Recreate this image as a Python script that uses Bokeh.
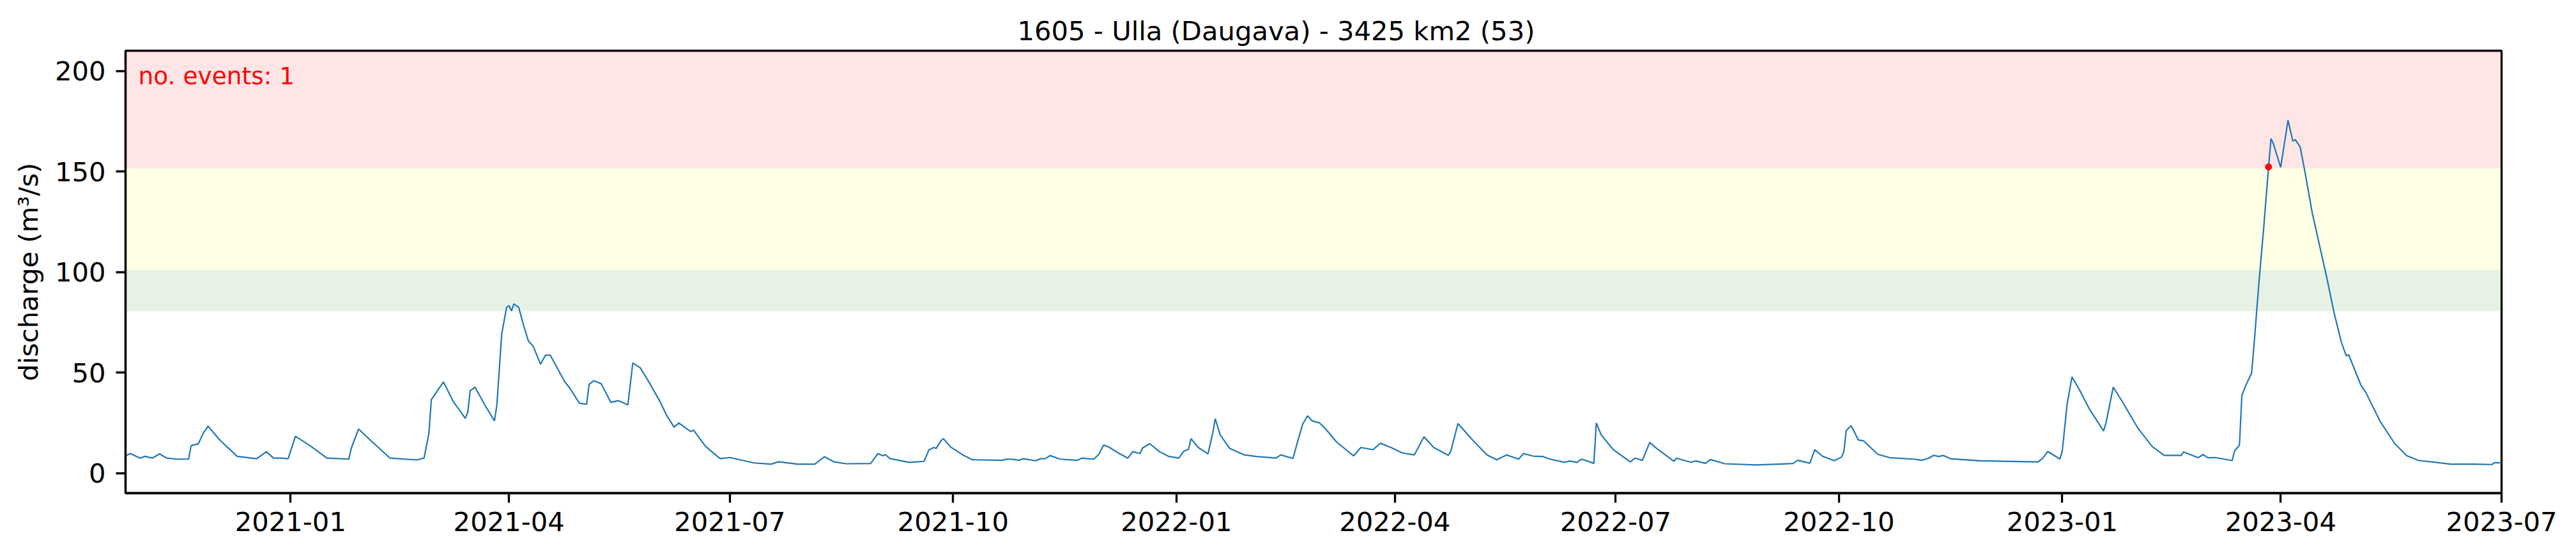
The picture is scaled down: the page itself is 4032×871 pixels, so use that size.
import pandas as pd
from bokeh.plotting import figure
from bokeh.models import (
    ColumnDataSource, Range1d, FixedTicker, DatetimeTickFormatter,
    BoxAnnotation, Label
)
from bokeh.embed import file_html
from bokeh.resources import INLINE

# ------------------------------------------------------------------ data
title_text = "1605 - Ulla (Daugava) - 3425 km2 (53)"
y_label = "discharge (m³/s)"

base_date = "2021-01-01"
# days since base_date
day_offsets = [
    -68, -66, -62, -60, -57, -54, -51, -47, -42, -41, -38, -36, -34, -29, -22,
    -14, -10, -7, -4, -1, 2, 8, 15, 24, 25, 28, 33, 41, 52, 55, 57, 58, 61, 63,
    67, 72, 73, 74, 76, 80, 84, 85, 87, 89, 90, 91, 92, 94, 96, 98, 100, 103,
    105, 107, 113, 115, 119, 122, 123, 125, 128, 132, 135, 139, 141, 144, 147,
    152, 155, 158, 160, 163, 165, 166, 171, 177, 181, 191, 198, 201, 209, 216,
    220, 224, 229, 239, 242, 244, 245, 247, 255, 261, 263, 265, 266, 268, 269,
    272, 277, 281, 293, 295, 298, 300, 302, 307, 309, 311, 313, 317, 324, 326,
    328, 331, 333, 335, 337, 341, 345, 347, 350, 351, 354, 358, 362, 366, 368,
    370, 371, 374, 378, 380, 381, 383, 387, 393, 398, 406, 408, 413, 415, 417,
    419, 421, 424, 427, 431, 438, 441, 446, 449, 454, 458, 463, 467, 471, 477,
    478, 481, 487, 493, 497, 501, 506, 508, 512, 516, 519, 525, 527, 530, 532,
    537, 538, 540, 545, 552, 554, 557, 560, 563, 570, 571, 577, 579, 583, 585,
    591, 604, 619, 621, 626, 628, 631, 636, 639, 640, 641, 643, 646, 648, 654,
    659, 669, 672, 675, 677, 679, 681, 684, 696, 720, 722, 724, 729, 730, 732,
    734, 737, 741, 747, 748, 751, 755, 761, 767, 772, 779, 780, 786, 788, 790,
    793, 800, 801, 803, 804, 806, 808, 809, 811, 813, 815, 816, 817, 820, 823,
    825, 826, 828, 830, 833, 836, 839, 842, 845, 847, 848, 853, 855, 861, 867,
    872, 877, 884, 890, 900, 907, 908, 911,
]
discharge = [
    8.6, 9.7, 7.4, 8.3, 7.4, 9.5, 7.4, 6.9, 6.9, 13.6, 14.5, 19.8, 23.3, 16.2, 8.3,
    7.1, 10.6, 7.4, 7.4, 7.1, 18.3, 13.6, 7.4, 6.9, 12.3, 21.9, 16.2, 7.4, 6.5, 7.4,
    19.8, 36.5, 41.8, 45.3, 35.6, 27.2, 30.3, 40.9, 42.7, 33.9, 25.9, 33.9, 69.1,
    82.4, 83.2, 80.6, 84.1, 82.4, 73.5, 65.6, 63.0, 54.1, 58.6, 58.6, 45.3, 42.3,
    34.7, 34.2, 44.1, 45.9, 44.4, 35.1, 36.0, 33.9, 54.7, 52.4, 46.6, 36.0, 28.6,
    22.8, 24.9, 22.2, 20.6, 21.4, 13.2, 7.2, 7.7, 5.0, 4.4, 5.6, 4.4, 4.4, 8.1, 5.5,
    4.6, 4.7, 9.7, 8.6, 9.2, 7.2, 5.3, 5.8, 11.4, 12.7, 12.2, 16.1, 17.1, 12.9, 9.0,
    6.6, 6.3, 6.9, 6.8, 6.3, 7.1, 6.1, 7.1, 7.2, 8.7, 6.9, 6.3, 7.4, 7.2, 6.9, 9.3,
    13.9, 13.0, 10.0, 7.4, 10.6, 9.7, 12.4, 14.6, 10.6, 8.2, 7.4, 10.8, 11.8, 17.1,
    12.7, 9.5, 20.1, 27.0, 19.0, 12.2, 9.0, 8.2, 7.4, 9.0, 7.2, 15.9, 24.3, 28.4,
    25.9, 24.9, 21.2, 15.4, 8.5, 12.7, 11.6, 14.8, 12.4, 10.0, 9.0, 18.0, 12.7, 8.8,
    10.6, 24.6, 16.4, 9.0, 6.6, 9.0, 6.9, 9.7, 8.4, 8.2, 6.9, 5.3, 6.0, 5.3, 6.9,
    4.8, 24.9, 19.0, 11.6, 5.5, 7.4, 6.3, 15.2, 12.1, 5.8, 7.4, 5.3, 6.0, 4.8, 6.7,
    4.6, 4.0, 4.7, 6.3, 4.9, 11.6, 8.5, 6.1, 7.9, 10.6, 21.2, 23.5, 16.4, 16.1, 9.3,
    7.6, 6.9, 6.3, 7.4, 8.8, 8.2, 8.7, 7.1, 6.1, 5.5, 7.4, 10.7, 7.0, 11.0, 34.3,
    47.8, 41.6, 32.2, 20.9, 24.9, 42.7, 35.0, 22.6, 13.2, 8.8, 8.8, 10.5, 7.6, 9.2,
    7.6, 7.7, 6.2, 11.0, 13.9, 38.7, 44.6, 49.7, 63.6, 94.3, 122.0, 152.2, 166.3,
    163.6, 152.0, 175.4, 165.1, 165.8, 162.2, 149.7, 129.3, 113.2, 97.1, 79.6, 65.0,
    58.3, 58.8, 43.8, 40.2, 25.6, 14.6, 8.6, 6.2, 5.3, 4.4, 4.4, 4.2, 5.1, 5.1,
]

# flood events (start of exceedance of the highest threshold)
event_dates = ["2023-03-27"]
event_values = [152.2]

# return-period thresholds: lower bounds of green / yellow / red bands
thresholds = [80.5, 101.0, 151.5]
band_colors = ["green", "yellow", "red"]

tick_dates = [
    "2021-01-01", "2021-04-01", "2021-07-01", "2021-10-01",
    "2022-01-01", "2022-04-01", "2022-07-01", "2022-10-01",
    "2023-01-01", "2023-04-01", "2023-07-01",
]
y_ticks = [0, 50, 100, 150, 200]
y_min, y_max = -10, 210
x_end = "2023-07-01"

# ------------------------------------------------------------------ build
dates = pd.Timestamp(base_date) + pd.to_timedelta(day_offsets, unit="D")
source = ColumnDataSource(dict(date=dates, q=discharge))
ev_source = ColumnDataSource(dict(date=pd.to_datetime(event_dates), q=event_values))

FONT = "DejaVu Sans"
FS = "41.7px"
LW = 3.3

p = figure(
    width=4016, height=855,
    x_axis_type="datetime",
    x_range=Range1d(dates[0], pd.Timestamp(x_end)),
    y_range=Range1d(y_min, y_max),
    output_backend="svg",
    toolbar_location=None,
    tools="",
    min_border_left=196, min_border_right=101,
    min_border_top=79, min_border_bottom=83,
)

# coloured threshold bands
bounds = thresholds + [None]
for i, col in enumerate(band_colors):
    p.add_layout(BoxAnnotation(
        bottom=bounds[i], top=bounds[i + 1],
        fill_color=col, fill_alpha=0.1, line_alpha=0, level="underlay",
    ))

p.line("date", "q", source=source, line_width=2.2, color="#1f77b4")
p.scatter("date", "q", source=ev_source, size=10, color="red", line_color="red")

p.add_layout(Label(
    x=dates[0].value // 10**6, y=y_max, x_offset=20, y_offset=-39,
    text=f"no. events: {len(event_dates)}",
    text_color="red", text_font=FONT, text_font_size="37.5px",
    text_baseline="alphabetic",
))

# ----------------------------------------------------------------- style
# title sits centred on the whole figure, not on the frame
p.title.text = title_text
p.title.align = "left"
p.title.offset = 1396
p.title.text_font = FONT
p.title.text_font_size = FS
p.title.text_font_style = "normal"
p.title.text_color = "black"
p.title.standoff = 14

p.xaxis.ticker = FixedTicker(
    ticks=[pd.Timestamp(d).value // 10**6 for d in tick_dates])
p.xaxis.formatter = DatetimeTickFormatter(
    days="%Y-%m", months="%Y-%m", years="%Y-%m")
p.yaxis.ticker = FixedTicker(ticks=y_ticks)
p.yaxis.axis_label = y_label

for ax in (p.xaxis, p.yaxis):
    ax.axis_line_width = LW
    ax.axis_line_color = "black"
    ax.major_tick_line_width = LW
    ax.major_tick_line_color = "black"
    ax.major_tick_out = 15
    ax.major_tick_in = 0
    ax.minor_tick_line_color = None
    ax.major_label_text_font = FONT
    ax.major_label_text_font_size = FS
    ax.major_label_text_color = "black"
    ax.axis_label_text_font = FONT
    ax.axis_label_text_font_size = FS
    ax.axis_label_text_font_style = "normal"
    ax.axis_label_text_color = "black"

p.xaxis.major_label_standoff = 14
p.yaxis.major_label_standoff = 16
p.yaxis.axis_label_standoff = 14

p.xgrid.grid_line_color = None
p.ygrid.grid_line_color = None
p.outline_line_color = "black"
p.outline_line_width = LW
p.outline_line_alpha = 1.0
p.background_fill_color = "white"
p.border_fill_color = "white"

open("out.html", "w").write(file_html(p, INLINE))
